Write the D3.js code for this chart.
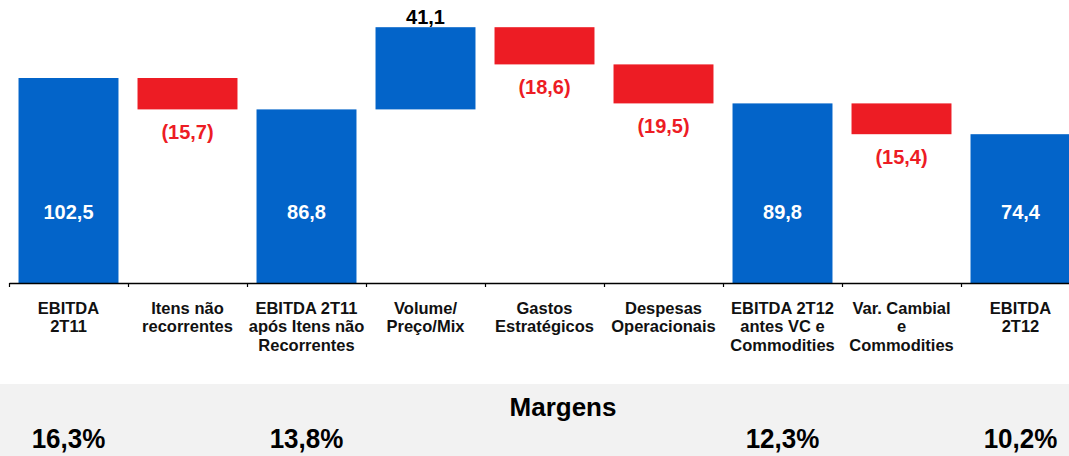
<!DOCTYPE html>
<html>
<head>
<meta charset="utf-8">
<script src="https://cdn.jsdelivr.net/npm/d3@7"></script>
<style>
  body { margin: 0; background: #fff; }
  text { font-family: "Liberation Sans", Arial, sans-serif; font-weight: bold; }
</style>
</head>
<body>
<div id="chart"></div>
<script>
// EBITDA bridge 2T11 -> 2T12 (R$ milhoes)
var categories = [
    ["EBITDA", "2T11"],
    ["Itens não", "recorrentes"],
    ["EBITDA 2T11", "após Itens não", "Recorrentes"],
    ["Volume/", "Preço/Mix"],
    ["Gastos", "Estratégicos"],
    ["Despesas", "Operacionais"],
    ["EBITDA 2T12", "antes VC e", "Commodities"],
    ["Var. Cambial", "e", "Commodities"],
    ["EBITDA", "2T12"]
];
var values = [102.5, -15.7, 86.8, 41.1, -18.6, -19.5, 89.8, -15.4, 74.4];
var isTotal = [true, false, true, false, false, false, true, false, true];
var margins = ["16,3%", "", "13,8%", "", "", "", "12,3%", "", "10,2%"];

var svgWidth = 1069;
var svgHeight = 456;

var svg = d3.select("#chart")
    .append("svg")
    .attr("width", svgWidth)
    .attr("height", svgHeight);

// build the waterfall steps
var data = [];
var running = 0;
values.forEach(function(v, i) {
    var start, end;
    if (isTotal[i]) {
        start = 0; end = v; running = v;
    } else {
        start = running; end = running + v; running = end;
    }
    data.push({ i: i, value: v, total: isTotal[i], lo: Math.min(start, end), hi: Math.max(start, end) });
});

var xBand = d3.scaleBand()
    .domain(d3.range(categories.length))
    .range([9, 1080])
    .padding(0);

var yScale = d3.scaleLinear()
    .domain([0, 141.5])
    .range([283, 0]);

var blue = "#0364C9";
var red = "#ED1C24";

function fmt(v) {
    var s = Math.abs(v).toFixed(1).replace(".", ",");
    return v < 0 ? "(" + s + ")" : s;
}

// bars
svg.selectAll("rect.bar")
    .data(data)
    .enter().append("rect")
    .attr("class", "bar")
    .attr("x", function(d) { return xBand(d.i) + xBand.bandwidth() * 0.08; })
    .attr("width", xBand.bandwidth() * 0.84)
    .attr("y", function(d) { return yScale(d.hi); })
    .attr("height", function(d) { return yScale(d.lo) - yScale(d.hi); })
    .attr("fill", function(d) { return d.value < 0 ? red : blue; });

// axis with ticks at band edges
var edgeScale = d3.scaleLinear().domain([0, categories.length]).range(xBand.range());
var bottomAxis = d3.axisBottom(edgeScale)
    .tickValues(d3.range(categories.length + 1))
    .tickFormat("")
    .tickSizeInner(4)
    .tickSizeOuter(0);

var axisG = svg.append("g")
    .attr("transform", "translate(0," + yScale(0) + ")")
    .call(bottomAxis);
axisG.select(".domain").attr("stroke", "#000").attr("stroke-width", 1.6);
axisG.selectAll(".tick line").attr("stroke", "#000").attr("stroke-width", 1.2);

// value labels
svg.selectAll("text.val")
    .data(data)
    .enter().append("text")
    .attr("class", "val")
    .attr("text-anchor", "middle")
    .attr("font-size", 20)
    .attr("x", function(d) { return xBand(d.i) + xBand.bandwidth() / 2; })
    .attr("y", function(d) {
        if (d.total) return yScale(35.5) + 7;
        if (d.value < 0) return yScale(d.lo) + 30;
        return yScale(d.hi) - 3;
    })
    .attr("fill", function(d) {
        if (d.total) return "#fff";
        return d.value < 0 ? red : "#000";
    })
    .text(function(d) { return fmt(d.value); });

// category labels
var catG = svg.selectAll("text.cat")
    .data(categories)
    .enter().append("text")
    .attr("class", "cat")
    .attr("text-anchor", "middle")
    .attr("font-size", 16.5)
    .attr("fill", "#111")
    .attr("x", function(d, i) { return xBand(i) + xBand.bandwidth() / 2; })
    .attr("y", 314);

catG.selectAll("tspan")
    .data(function(d, i) { return d.map(function(s) { return { s: s, i: i }; }); })
    .enter().append("tspan")
    .attr("x", function(d) { return xBand(d.i) + xBand.bandwidth() / 2; })
    .attr("dy", function(d, j) { return j === 0 ? 0 : 18.3; })
    .text(function(d) { return d.s; });

// margins panel
svg.append("rect")
    .attr("x", 0)
    .attr("y", 384)
    .attr("width", svgWidth)
    .attr("height", svgHeight - 384)
    .attr("fill", "#F2F2F2");

svg.append("text")
    .attr("text-anchor", "middle")
    .attr("font-size", 26)
    .attr("fill", "#000")
    .attr("x", 563)
    .attr("y", 416)
    .text("Margens");

svg.selectAll("text.margin")
    .data(margins)
    .enter().append("text")
    .attr("class", "margin")
    .attr("text-anchor", "middle")
    .attr("font-size", 26)
    .attr("fill", "#000")
    .attr("transform", function(d, i) {
        return "translate(" + (xBand(i) + xBand.bandwidth() / 2) + ",448) scale(1,1.05)";
    })
    .text(function(d) { return d; });
</script>
</body>
</html>
